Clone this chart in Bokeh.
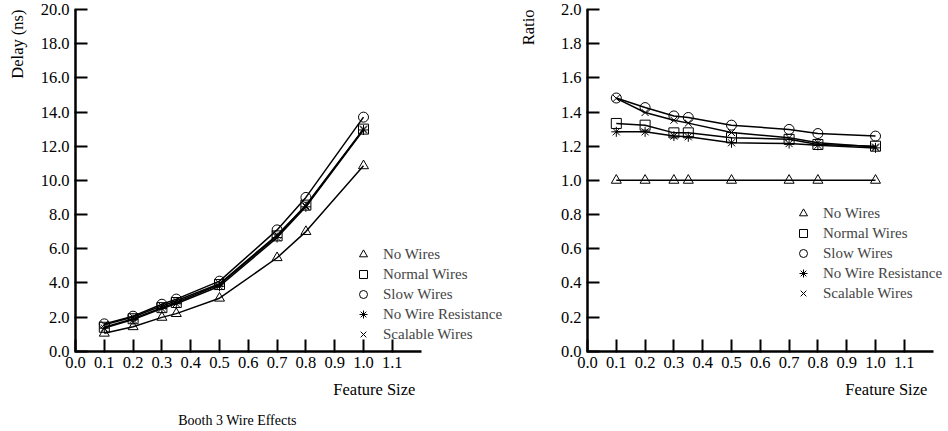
import math
from bokeh.plotting import figure
from bokeh.models import Range1d, FixedTicker, NumeralTickFormatter, Legend, LegendItem, Label
from bokeh.layouts import row
from bokeh.embed import file_html
from bokeh.resources import INLINE

FONT = "Liberation Serif"

feature_size = [0.1, 0.2, 0.3, 0.35, 0.5, 0.7, 0.8, 1.0]
series_names = ["No Wires", "Normal Wires", "Slow Wires", "No Wire Resistance", "Scalable Wires"]
series_markers = ["triangle", "square", "circle", "asterisk", "x"]

delay_no_wires = [1.05, 1.43, 1.98, 2.2, 3.1, 5.47, 7.0, 10.85]
delay_normal = [1.4, 1.9, 2.55, 2.85, 3.9, 6.75, 8.55, 13.0]
delay_slow = [1.6, 2.05, 2.75, 3.05, 4.1, 7.1, 9.0, 13.7]
delay_no_res = [1.35, 1.85, 2.5, 2.78, 3.8, 6.65, 8.45, 12.95]
delay_scalable = [1.55, 2.0, 2.65, 2.95, 3.95, 6.8, 8.5, 13.0]

ratio_no_wires = [1.0, 1.0, 1.0, 1.0, 1.0, 1.0, 1.0, 1.0]
ratio_normal = [1.333, 1.323, 1.278, 1.278, 1.25, 1.24, 1.21, 1.2]
ratio_slow = [1.482, 1.426, 1.377, 1.368, 1.323, 1.298, 1.274, 1.259]
ratio_no_res = [1.284, 1.284, 1.259, 1.255, 1.22, 1.215, 1.205, 1.19]
ratio_scalable = [1.48, 1.397, 1.352, 1.335, 1.28, 1.25, 1.22, 1.195]

x_ticks = [0.0, 0.1, 0.2, 0.3, 0.4, 0.5, 0.6, 0.7, 0.8, 0.9, 1.0, 1.1]
delay_ticks = [0, 2, 4, 6, 8, 10, 12, 14, 16, 18, 20]
ratio_ticks = [0.0, 0.2, 0.4, 0.6, 0.8, 1.0, 1.2, 1.4, 1.6, 1.8, 2.0]

H = 431
X_PX = 288.0      # pixels per unit of feature size
Y0_PX = 350.7     # pixel row of y = 0
YTOP_PX = 9.0     # pixel row of the top tick


def make_panel(series, y_end, y_ticks, y_label, width, axis_px, legend_loc,
               ylab_x, feat_y, title=None, title_y=None):
    y_per = (Y0_PX - YTOP_PX) / y_end
    x_range = Range1d(-axis_px / X_PX, (width - axis_px) / X_PX)
    y_range = Range1d(-(H - Y0_PX) / y_per, y_end + YTOP_PX / y_per)
    p = figure(width=width, height=H, output_backend="svg", toolbar_location=None,
               x_range=x_range, y_range=y_range, min_border=0)
    p.outline_line_color = None
    p.xgrid.visible = False
    p.ygrid.visible = False
    p.background_fill_color = "white"
    p.border_fill_color = "white"
    p.xaxis.ticker = FixedTicker(ticks=x_ticks)
    p.yaxis.ticker = FixedTicker(ticks=y_ticks)
    p.xaxis.formatter = NumeralTickFormatter(format="0.0")
    p.yaxis.formatter = NumeralTickFormatter(format="0.0")
    p.xaxis.fixed_location = 0
    p.yaxis.fixed_location = 0
    p.xaxis.bounds = (0, 1.2)
    p.yaxis.bounds = (0, y_end)
    for ax in (p.xaxis, p.yaxis):
        ax.axis_line_width = 2.5
        ax.axis_line_color = "black"
        ax.major_tick_line_width = 2
        ax.major_tick_line_color = "black"
        ax.major_tick_in = 12
        ax.major_tick_out = 1
        ax.minor_tick_in = 0
        ax.minor_tick_out = 0
        ax.major_label_text_font = FONT
        ax.major_label_text_font_size = "16.5px"
        ax.major_label_text_color = "black"
        ax.major_label_standoff = 5

    items = []
    for name, marker, ys in zip(series_names, series_markers, series):
        p.line(feature_size, ys, line_color="black", line_width=1.5)
        r = p.scatter(feature_size, ys, marker=marker, size=10, line_color="black",
                      fill_color=None, line_width=1)
        items.append(LegendItem(label=name, renderers=[r]))

    legend = Legend(items=items, location=legend_loc, padding=0, margin=0, spacing=0,
                    glyph_width=20, glyph_height=20, label_height=20, label_standoff=10,
                    border_line_color=None, background_fill_alpha=0,
                    label_text_font=FONT, label_text_font_size="15px")
    p.add_layout(legend)

    p.add_layout(Label(x=ylab_x, y=y_end, text=y_label, angle=math.pi / 2,
                       text_align="right", text_baseline="middle",
                       text_font=FONT, text_font_size="16.5px", text_color="black"))
    p.add_layout(Label(x=1.18, y=feat_y, text="Feature Size", text_align="right",
                       text_baseline="middle", text_font=FONT, text_font_size="16.5px",
                       text_color="black"))
    if title is not None:
        p.add_layout(Label(x=0.5625, y=title_y, text=title, text_align="center",
                           text_baseline="middle", text_font=FONT, text_font_size="14px",
                           text_color="black"))
    return p


p1 = make_panel([delay_no_wires, delay_normal, delay_slow, delay_no_res, delay_scalable],
                20, delay_ticks, "Delay (ns)", 520, 75, (353, 87), -0.201, -2.23,
                title="Booth 3 Wire Effects", title_y=-4.03)
p2 = make_panel([ratio_no_wires, ratio_normal, ratio_slow, ratio_no_res, ratio_scalable],
                2.0, ratio_ticks, "Ratio", 428, 67, (273, 128), -0.205, -0.223)

layout = row(p1, p2)
open("out.html", "w").write(file_html(layout, INLINE))
